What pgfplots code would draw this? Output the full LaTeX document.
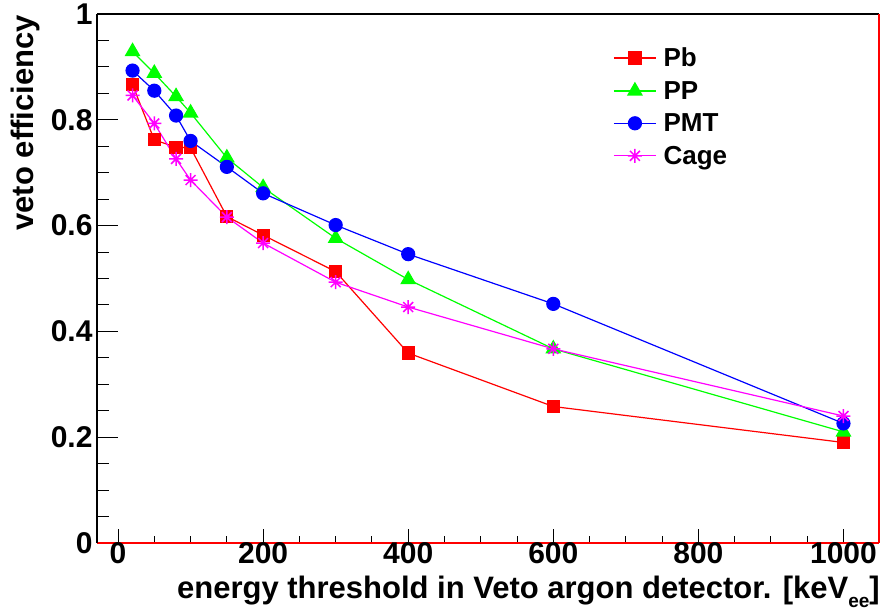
\documentclass[border=0pt]{standalone}
\usepackage{fontspec}
\setmainfont{Liberation Sans}
\usepackage{pgfplots}
\pgfplotsset{compat=1.18}
\pgfdeclareplotmark{rootstar}{%
  \pgfpathmoveto{\pgfqpoint{-\pgfplotmarksize}{0pt}}\pgfpathlineto{\pgfqpoint{\pgfplotmarksize}{0pt}}%
  \pgfpathmoveto{\pgfqpoint{0pt}{-\pgfplotmarksize}}\pgfpathlineto{\pgfqpoint{0pt}{\pgfplotmarksize}}%
  \pgfpathmoveto{\pgfqpoint{-0.707\pgfplotmarksize}{-0.707\pgfplotmarksize}}\pgfpathlineto{\pgfqpoint{0.707\pgfplotmarksize}{0.707\pgfplotmarksize}}%
  \pgfpathmoveto{\pgfqpoint{-0.707\pgfplotmarksize}{0.707\pgfplotmarksize}}\pgfpathlineto{\pgfqpoint{0.707\pgfplotmarksize}{-0.707\pgfplotmarksize}}%
  \pgfusepathqstroke}
\definecolor{rred}{rgb}{1,0,0}
\definecolor{rgreen}{rgb}{0,1,0}
\definecolor{rblue}{rgb}{0,0,1}
\definecolor{rmag}{rgb}{1,0,1}
\begin{document}
\begin{tikzpicture}[x=1bp,y=1bp]
\useasboundingbox (0,0) rectangle (881,611);
\begin{axis}[
  at={(97bp,68bp)}, anchor=south west,
  width=782bp, height=529bp, scale only axis,
  xmin=-29, xmax=1049, ymin=0, ymax=1,
  axis x line*=bottom, axis y line*=left,
  x axis line style={draw=rred, line width=2bp},
  y axis line style={draw=black, line width=1.5bp},
  xtick={0,200,400,600,800,1000},
  ytick={0,0.2,0.4,0.6,0.8,1},
  yticklabels={0,0.2,0.4,0.6,0.8,1},
  minor x tick num=3, minor y tick num=3,
  tick align=inside,
  major tick length=21bp, minor tick length=12bp,
  xtick style={/pgfplots/major tick length=14bp,/pgfplots/minor tick length=7bp},
  every tick/.style={black, line width=1bp},
  /pgf/number format/assume math mode=true,
  /pgf/number format/1000 sep={},
  ticklabel style={font=\fontsize{30bp}{30bp}\selectfont\bfseries},
  xticklabel style={yshift=1bp, inner sep=0pt, anchor=north},
  yticklabel style={xshift=-1bp},
  clip=false,
  legend style={at={(rel axis cs:0.66,0.94)}, anchor=north west, draw=none, fill=none,
    font=\fontsize{26bp}{26bp}\selectfont\bfseries, row sep=9bp, inner sep=0pt,
    cells={anchor=west}},
  legend image code/.code={\draw[mark repeat=2,mark phase=2,#1] plot coordinates {(0bp,0bp) (21bp,0bp) (42bp,0bp)};},
]
\draw[black, line width=1.5bp] (rel axis cs:0,1) -- (rel axis cs:1,1);
\draw[rred, line width=2bp] (rel axis cs:1,0) -- (rel axis cs:1,1);
\addplot[rred, line width=1.2bp, mark=square*, mark size=6bp, mark options={solid}] coordinates {
(20,0.866) (50,0.762) (80,0.748) (100,0.747) (150,0.617) (200,0.582) (300,0.513) (400,0.359) (600,0.258) (1000,0.190)};
\addlegendentry{\hspace{5bp}Pb}
\addplot[rgreen, line width=1.2bp, mark=triangle*, mark size=8bp] coordinates {
(20,0.929) (50,0.888) (80,0.844) (100,0.813) (150,0.728) (200,0.672) (300,0.576) (400,0.498) (600,0.367) (1000,0.210)};
\addlegendentry{\hspace{5bp}PP}
\addplot[rblue, line width=1.2bp, mark=*, mark size=6.5bp] coordinates {
(20,0.893) (50,0.855) (80,0.808) (100,0.760) (150,0.711) (200,0.661) (300,0.601) (400,0.546) (600,0.452) (1000,0.226)};
\addlegendentry{\hspace{5bp}PMT}
\addplot[rmag, line width=1.2bp, mark=rootstar, mark size=7bp, mark options={line width=1.5bp}] coordinates {
(20,0.846) (50,0.793) (80,0.726) (100,0.686) (150,0.616) (200,0.567) (300,0.493) (400,0.446) (600,0.367) (1000,0.240)};
\addlegendentry{\hspace{5bp}Cage}
\end{axis}
\node[anchor=base east, inner sep=0pt, font=\fontsize{31bp}{31bp}\selectfont\bfseries] at (880,12)
  {energy threshold in Veto argon detector. [keV\raisebox{-9bp}{\fontsize{19bp}{19bp}\selectfont ee}]};
\node[anchor=base east, rotate=90, inner sep=0pt, font=\fontsize{31bp}{31bp}\selectfont\bfseries] at (33,596)
  {veto efficiency};
\end{tikzpicture}
\end{document}
